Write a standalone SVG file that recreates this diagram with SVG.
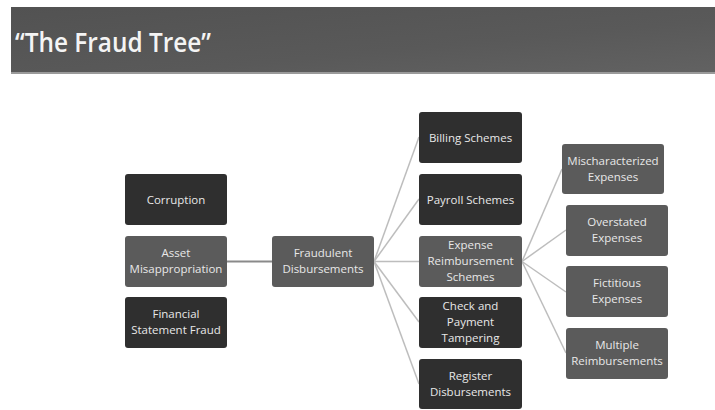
<svg xmlns="http://www.w3.org/2000/svg" width="715" height="410" viewBox="0 0 715 410">
  <defs>
    <linearGradient id="band" x1="0" y1="0" x2="1" y2="1">
      <stop offset="0" stop-color="#525252"/>
      <stop offset="0.6" stop-color="#595959"/>
      <stop offset="1" stop-color="#626262"/>
    </linearGradient>
  </defs>
  <style>
    .dark { fill: #2f2f2f; }
    .mid { fill: #5b5b5b; }
    .lbl { font-family: "Open Sans", "Liberation Sans", sans-serif; font-size: 11.5px; fill: #e8e8e8; text-anchor: middle; }
    .trunk { stroke: #8a8a8a; stroke-width: 2; fill: none; }
    .branch { stroke: #bdbdbd; stroke-width: 1.5; fill: none; }
  </style>

  <rect width="715" height="410" fill="#ffffff"/>

  <!-- title band -->
  <g id="header">
    <rect x="11" y="7" width="704" height="66" fill="url(#band)"/>
    <rect x="11" y="72" width="704" height="2" fill="#9a9a9a"/>
    <text x="15" y="52" font-family="'Open Sans', 'Liberation Sans', sans-serif" font-size="27" font-weight="600" fill="#f4f4f4" textLength="196" lengthAdjust="spacingAndGlyphs">“The Fraud Tree”</text>
  </g>

  <!-- connectors -->
  <g id="connectors">
    <line class="trunk" x1="227" y1="261.5" x2="272" y2="261.5"/>
    <line class="branch" x1="374" y1="261.5" x2="419" y2="137"/>
    <line class="branch" x1="374" y1="261.5" x2="419" y2="199"/>
    <line class="branch" x1="374" y1="261.5" x2="419" y2="261.5"/>
    <line class="branch" x1="374" y1="261.5" x2="419" y2="322"/>
    <line class="branch" x1="374" y1="261.5" x2="419" y2="384"/>
    <line class="branch" x1="522" y1="261.5" x2="562" y2="169"/>
    <line class="branch" x1="522" y1="261.5" x2="566" y2="230"/>
    <line class="branch" x1="522" y1="261.5" x2="566" y2="292"/>
    <line class="branch" x1="522" y1="261.5" x2="566" y2="353"/>
  </g>

  <!-- first level -->
  <g id="corruption">
    <rect class="dark" x="125" y="174" width="102" height="51" rx="3"/>
    <text class="lbl" x="176" y="203.5">Corruption</text>
  </g>
  <g id="asset-misappropriation">
    <rect class="mid" x="125" y="236" width="102" height="51" rx="3"/>
    <text class="lbl" x="176" y="257">Asset</text>
    <text class="lbl" x="176" y="273">Misappropriation</text>
  </g>
  <g id="financial-statement-fraud">
    <rect class="dark" x="125" y="297" width="102" height="51" rx="3"/>
    <text class="lbl" x="176" y="318">Financial</text>
    <text class="lbl" x="176" y="334">Statement Fraud</text>
  </g>

  <!-- second level -->
  <g id="fraudulent-disbursements">
    <rect class="mid" x="272" y="236" width="102" height="51" rx="3"/>
    <text class="lbl" x="323" y="257">Fraudulent</text>
    <text class="lbl" x="323" y="273">Disbursements</text>
  </g>

  <!-- third level -->
  <g id="billing-schemes">
    <rect class="dark" x="419" y="112" width="103" height="51" rx="3"/>
    <text class="lbl" x="470.5" y="141.5">Billing Schemes</text>
  </g>
  <g id="payroll-schemes">
    <rect class="dark" x="419" y="174" width="103" height="51" rx="3"/>
    <text class="lbl" x="470.5" y="203.5">Payroll Schemes</text>
  </g>
  <g id="expense-reimbursement-schemes">
    <rect class="mid" x="419" y="236" width="103" height="51" rx="3"/>
    <text class="lbl" x="470.5" y="249">Expense</text>
    <text class="lbl" x="470.5" y="265">Reimbursement</text>
    <text class="lbl" x="470.5" y="281">Schemes</text>
  </g>
  <g id="check-payment-tampering">
    <rect class="dark" x="419" y="297" width="103" height="51" rx="3"/>
    <text class="lbl" x="470.5" y="310">Check and</text>
    <text class="lbl" x="470.5" y="326">Payment</text>
    <text class="lbl" x="470.5" y="342">Tampering</text>
  </g>
  <g id="register-disbursements">
    <rect class="dark" x="419" y="359" width="103" height="50" rx="3"/>
    <text class="lbl" x="470.5" y="380">Register</text>
    <text class="lbl" x="470.5" y="396">Disbursements</text>
  </g>

  <!-- fourth level -->
  <g id="mischaracterized-expenses">
    <rect class="mid" x="562" y="144" width="102" height="50" rx="3"/>
    <text class="lbl" x="613" y="165">Mischaracterized</text>
    <text class="lbl" x="613" y="181">Expenses</text>
  </g>
  <g id="overstated-expenses">
    <rect class="mid" x="566" y="205" width="102" height="51" rx="3"/>
    <text class="lbl" x="617" y="226">Overstated</text>
    <text class="lbl" x="617" y="242">Expenses</text>
  </g>
  <g id="fictitious-expenses">
    <rect class="mid" x="566" y="266" width="102" height="51" rx="3"/>
    <text class="lbl" x="617" y="287">Fictitious</text>
    <text class="lbl" x="617" y="303">Expenses</text>
  </g>
  <g id="multiple-reimbursements">
    <rect class="mid" x="566" y="328" width="102" height="51" rx="3"/>
    <text class="lbl" x="617" y="349">Multiple</text>
    <text class="lbl" x="617" y="365">Reimbursements</text>
  </g>
</svg>
